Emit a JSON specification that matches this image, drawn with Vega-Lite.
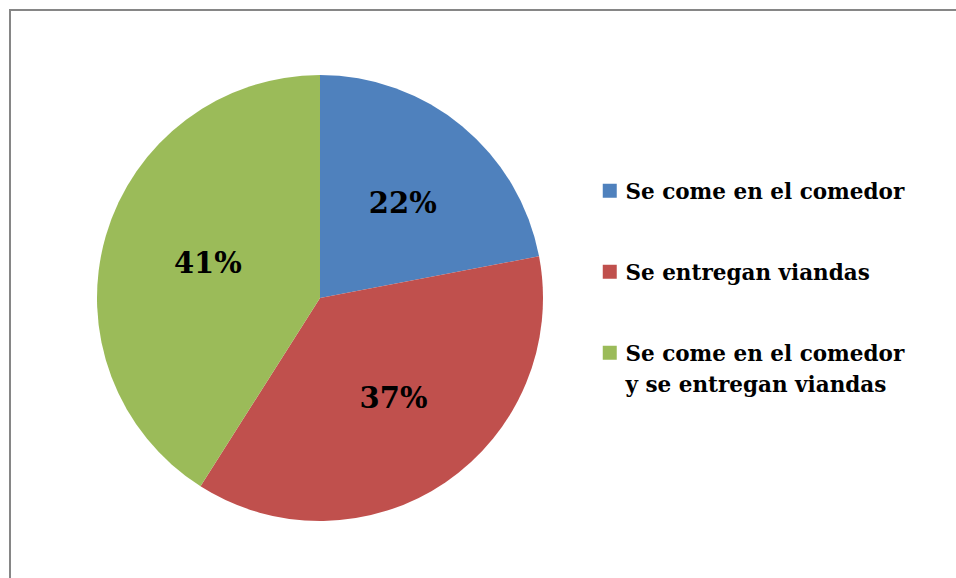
{
  "$schema": "https://vega.github.io/schema/vega-lite/v6.json",
  "autosize": "none",
  "padding": {"left": 10, "top": 10, "right": 0, "bottom": 0},
  "width": 960,
  "height": 580,
  "background": "white",
  "config": {
    "view": {"stroke": "#868686", "strokeWidth": 2},
    "font": "DejaVu Serif"
  },
  "data": {
    "values": [
      {"categoria": "Se come en el comedor", "porcentaje": 0.22, "orden": 1},
      {"categoria": "Se entregan viandas", "porcentaje": 0.37, "orden": 2},
      {"categoria": "Se come en el comedor y se entregan viandas", "porcentaje": 0.41, "orden": 3}
    ]
  },
  "encoding": {
    "theta": {"field": "porcentaje", "type": "quantitative", "stack": true},
    "order": {"field": "orden", "type": "quantitative"},
    "x": {"value": 310},
    "y": {"value": 288}
  },
  "layer": [
    {
      "mark": {"type": "arc", "outerRadius": 223},
      "encoding": {
        "color": {
          "field": "categoria",
          "type": "nominal",
          "sort": ["Se come en el comedor", "Se entregan viandas", "Se come en el comedor y se entregan viandas"],
          "scale": {
            "domain": ["Se come en el comedor", "Se entregan viandas", "Se come en el comedor y se entregan viandas"],
            "range": ["#4F81BD", "#C0504D", "#9BBB59"]
          },
          "legend": {
            "title": null,
            "orient": "none",
            "legendX": 589,
            "legendY": 170,
            "symbolType": "square",
            "symbolSize": 196,
            "symbolStrokeWidth": 0,
            "symbolOffset": 0,
            "labelFont": "DejaVu Serif",
            "labelFontWeight": "bold",
            "labelFontSize": 21.5,
            "labelColor": "#000000",
            "labelLimit": 400,
            "labelOffset": 5,
            "labelBaseline": "alphabetic",
            "rowPadding": 57,
            "labelExpr": "datum.label == 'Se come en el comedor y se entregan viandas' ? ['Se come en el comedor', 'y se entregan viandas'] : datum.label",
            "encode": {
              "labels": {"update": {"dy": {"value": 8}, "lineHeight": {"value": 31}}}
            }
          }
        }
      }
    },
    {
      "mark": {"type": "text", "radius": 122, "dx": 5, "font": "DejaVu Serif", "fontWeight": "bold", "fontSize": 29, "color": "#000000"},
      "encoding": {
        "text": {"field": "porcentaje", "type": "quantitative", "format": ".0%"},
        "detail": {"field": "categoria"}
      }
    }
  ]
}
